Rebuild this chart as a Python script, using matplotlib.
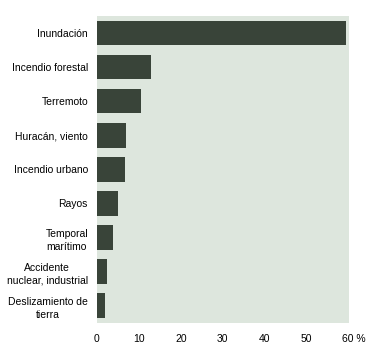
import matplotlib
matplotlib.use("Agg")
import matplotlib.pyplot as plt
import matplotlib.transforms as mtransforms

categories = ["Inundación", "Incendio forestal", "Terremoto", "Huracán, viento",
              "Incendio urbano", "Rayos", "Temporal\nmarítimo",
              "Accidente\nnuclear, industrial", "Deslizamiento de\ntierra"]
values = [59.4, 12.9, 10.5, 6.9, 6.7, 5.0, 3.8, 2.4, 1.9]
xticks = [0, 10, 20, 30, 40, 50, 60]
xtick_labels = ["0", "10", "20", "30", "40", "50", "60 %"]

plt.rcParams['font.family'] = ['Liberation Sans', 'DejaVu Sans']

fig = plt.figure(figsize=(3.73, 3.55), dpi=100)
ax = fig.add_axes([97/373, 1 - 322.7/355, (348.5-97)/373, (322.7-16)/355])
ax.set_facecolor('#dde6dd')
y = list(range(len(categories)))
ax.barh(y, values, height=0.72, color='#394439')
ax.set_xlim(0, 60)
ax.set_ylim(len(categories) - 0.5, -0.5)
ax.set_yticks(y)
ax.set_yticklabels(categories, fontsize=7.5, multialignment='center', linespacing=1.4)
ax.set_xticks(xticks)
ax.set_xticklabels(xtick_labels, fontsize=7.5)
ax.tick_params(axis='both', length=0)
ax.tick_params(axis='y', pad=6.5)
ax.tick_params(axis='x', pad=8)
for s in ax.spines.values():
    s.set_visible(False)
lab = ax.get_xticklabels()[-1]
lab.set_transform(lab.get_transform() + mtransforms.ScaledTranslation(5.5/100, 0, fig.dpi_scale_trans))

fig.savefig("out.png", dpi=100, facecolor='white')
